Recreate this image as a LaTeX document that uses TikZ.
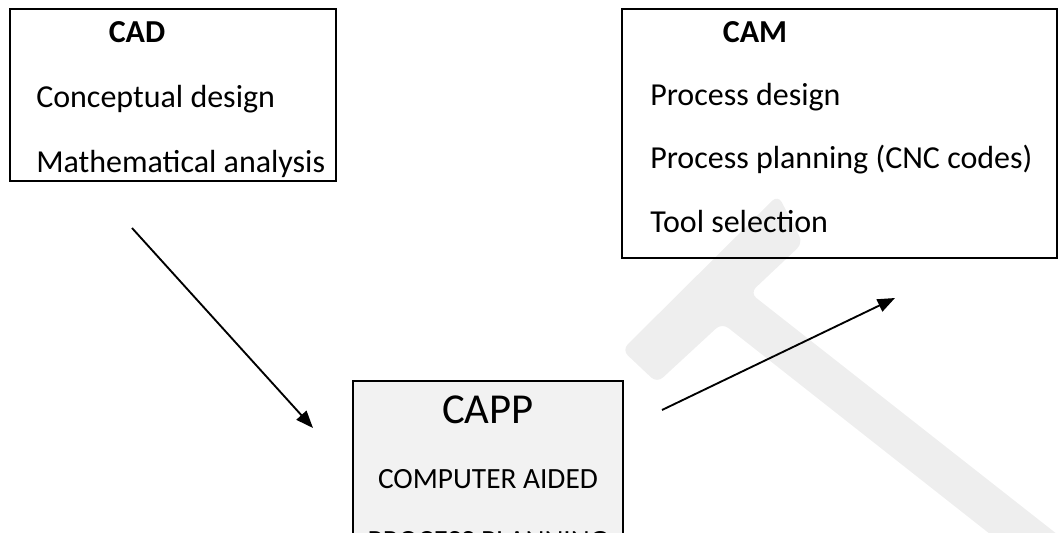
\documentclass[tikz,border=0pt]{standalone}
\usepackage{fontspec}
\setmainfont{Carlito}
\usetikzlibrary{arrows.meta}
\begin{document}
\begin{tikzpicture}[x=0.75pt,y=-0.75pt,
  box/.style={draw, line width=1.5pt, rectangle, inner sep=0pt},
  item/.style={anchor=base west, inner sep=0pt, font=\fontsize{24}{29}\selectfont},
  head/.style={anchor=base, inner sep=0pt, font=\fontsize{24}{29}\selectfont\bfseries},
  flow/.style={-{Triangle[length=13pt,width=10pt]}, line width=1.4pt}]
\useasboundingbox (0,0) rectangle (1059,532);
\clip (0,0) rectangle (1059,532);
% watermark
\fill[gray!13, rounded corners=6pt] (622,350) -- (778,195) -- (803,243) -- (750,293) -- (1090,560) -- (1023,560) -- (722,323) -- (657,383) -- cycle;
% boxes
\node[box, minimum width=244.5pt, minimum height=129pt] (cad) at (173,95) {};
\node[head] (cadtitle) at (137,42) {CAD};
\node[item] (concept) at (36,107) {Conceptual design};
\node[item] (math) at (36,172) {Mathematical analysis};
\node[box, minimum width=326.25pt, minimum height=186.75pt] (cam) at (839.5,133.5) {};
\node[head] (camtitle) at (755,42) {CAM};
\node[item] (pdesign) at (650,105) {Process design};
\node[item] (pplan) at (650,168) {Process planning (CNC codes)};
\node[item] (tools) at (650,232) {Tool selection};
\node[box, fill=gray!10, line width=0.8pt, minimum width=202.5pt, minimum height=164.25pt] (capp) at (488,490.5) {};
\node[anchor=base, inner sep=0pt, font=\fontsize{32}{38}\selectfont] (capptitle) at (488,423) {CAPP};
\node[anchor=base, inner sep=0pt, font=\fontsize{22}{26}\selectfont] (cappline1) at (488,488) {COMPUTER AIDED};
\node[anchor=base, inner sep=0pt, font=\fontsize{22}{26}\selectfont] (cappline2) at (488,550) {PROCESS PLANNING};
% arrows
\coordinate (a1) at (132,228);
\coordinate (a2) at (313,428);
\draw[flow] (a1) -- (a2);
\coordinate (b1) at (662,410);
\coordinate (b2) at (895,298);
\draw[flow] (b1) -- (b2);
\end{tikzpicture}
\end{document}
